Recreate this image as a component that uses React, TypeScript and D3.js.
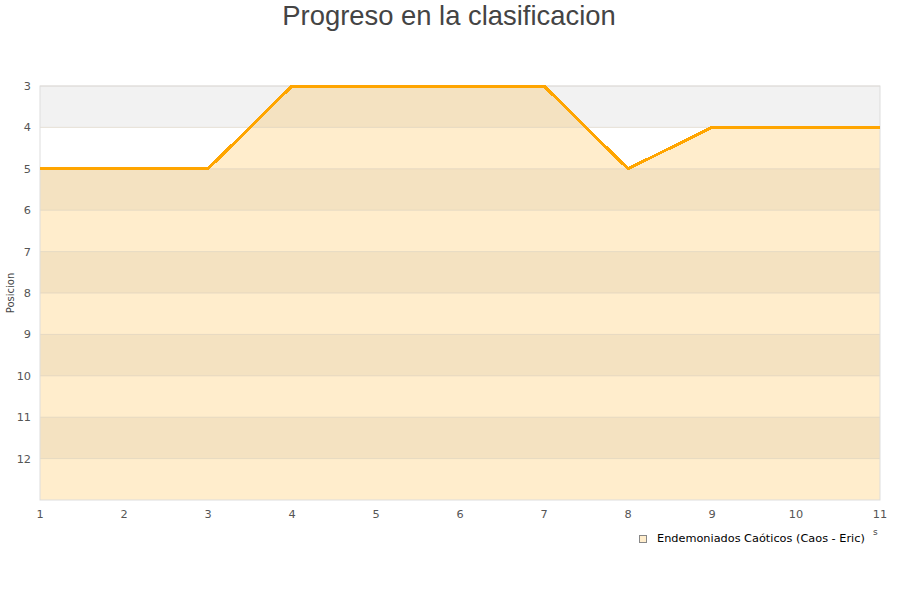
import * as React from 'react'
import { scaleLinear, line, area, range } from 'd3'

const jornadas = [1, 2, 3, 4, 5, 6, 7, 8, 9, 10, 11]
const posiciones = [5, 5, 5, 3, 3, 3, 3, 5, 4, 4, 4]
const yTicks = [3, 4, 5, 6, 7, 8, 9, 10, 11, 12]
const seriesName = 'Endemoniados Caóticos (Caos - Eric)'
const title = 'Progreso en la clasificacion'

const width = 900
const height = 600
const left = 40
const right = 880
const top = 86
const bottom = 500
const font = 'DejaVu Sans, sans-serif'

export default function App() {
  const x = scaleLinear().domain([1, 11]).range([left, right])
  const y = scaleLinear().domain([3, 13]).range([top, bottom])

  const pts = jornadas.map((j, i) => [j, posiciones[i]] as [number, number])
  const linePath = line<[number, number]>()
    .x((d) => x(d[0]))
    .y((d) => y(d[1]))(pts)
  const areaPath = area<[number, number]>()
    .x((d) => x(d[0]))
    .y0(y(13))
    .y1((d) => y(d[1]))(pts)

  const bands = range(3, 13)

  return (
    <svg width={width} height={height} style={{ position: 'absolute', left: 0, top: 0 }}>
      <rect width={width} height={height} fill="#fff" />
      <text x={449} y={25} textAnchor="middle" fontFamily="Liberation Sans, Arial, sans-serif" fontSize={27.4} fill="#444">
        {title}
      </text>
      {bands.map((b, i) =>
        i % 2 === 0 ? (
          <rect key={b} x={left} y={y(b)} width={right - left} height={y(b + 1) - y(b)} fill="#f2f2f2" />
        ) : null
      )}
      <path d={areaPath ?? ''} fill="#ffa500" fillOpacity={0.2} />
      {yTicks.map((t) => (
        <line key={t} x1={left} x2={right} y1={y(t)} y2={y(t)} stroke="#d8d0c0" strokeOpacity={0.6} strokeWidth={1} />
      ))}
      <rect x={left} y={top} width={right - left} height={bottom - top} fill="none" stroke="#ddd" strokeWidth={1} />
      <path d={linePath ?? ''} fill="none" stroke="#ffa500" strokeWidth={3} strokeLinejoin="round" shapeRendering="crispEdges" />
      {yTicks.map((t) => (
        <text key={t} x={31} y={y(t) + 4} textAnchor="end" fontFamily={font} fontSize={11.3} fill="#555">
          {t}
        </text>
      ))}
      {jornadas.map((j) => (
        <text key={j} x={x(j)} y={518} textAnchor="middle" fontFamily={font} fontSize={11.3} fill="#555">
          {j}
        </text>
      ))}
      <text
        transform={`translate(14, ${(top + bottom) / 2}) rotate(-90)`}
        textAnchor="middle"
        fontFamily={font}
        fontSize={10}
        fill="#444"
      >
        Posicion
      </text>
      <text x={873} y={535} fontFamily={font} fontSize={9} fill="#444">
        s
      </text>
      <rect x={639.5} y={535.5} width={7} height={7} fill="#ffedcc" stroke="#888" strokeWidth={1} />
      <text x={657} y={542} fontFamily={font} fontSize={11.3} fill="#000">
        {seriesName}
      </text>
    </svg>
  )
}
